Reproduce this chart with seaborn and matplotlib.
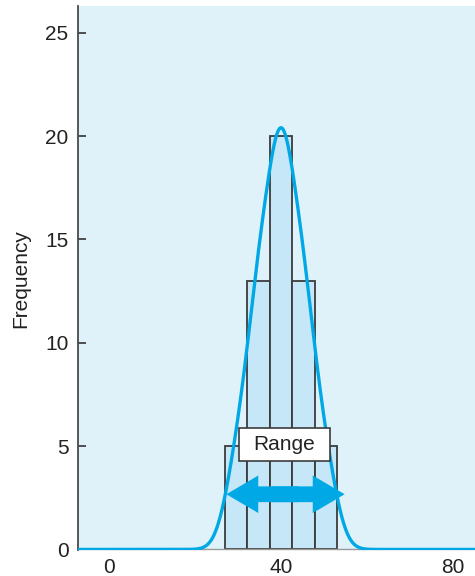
import matplotlib
matplotlib.use("Agg")
import matplotlib.pyplot as plt
from matplotlib.patches import Rectangle, FancyArrowPatch
import seaborn as sns
import pandas as pd

# --- data ---
bin_centers = [30, 35, 40, 45, 50]
counts = [5, 13, 20, 13, 5]
bin_width = 5.2
curve_peak = 20.4          # height of the smooth curve at its top
x_ticks = [0, 40, 80]
y_ticks = [0, 5, 10, 15, 20, 25]
box_label = "Range"

# --- colours ---
BG = "#dff2fa"
BAR = "#c6e7f7"
EDGE = "#3c3c3c"
BLUE = "#00a9e6"

sns.set_theme(style="white")
plt.rcParams["font.family"] = ["Liberation Sans", "DejaVu Sans"]

df = pd.DataFrame({"value": bin_centers, "count": counts})

fig = plt.figure(figsize=(4.75, 5.76), dpi=100)
ax = fig.add_axes([0.1648, 0.0443, 0.8352, 0.9453])
ax.set_facecolor(BG)

# histogram bars
sns.histplot(data=df, x="value", weights="count", binwidth=bin_width,
             binrange=(40 - 2.5 * bin_width, 40 + 2.5 * bin_width),
             color=BAR, edgecolor=EDGE, linewidth=1.3, alpha=1, ax=ax)

ax.set_xlim(-7.14, 85.12)
ax.set_ylim(-0.05, 26.29)

# smooth curve on a twin axis, scaled so the top sits at curve_peak
ax2 = ax.twinx()
sns.kdeplot(data=df, x="value", weights="count", bw_adjust=0.63, cut=20,
            clip=(-7.14, 85.12), gridsize=600, color=BLUE, linewidth=2.4, ax=ax2)
kde_max = ax2.lines[0].get_ydata().max()
scale = curve_peak / kde_max
lo, hi = ax.get_ylim()
ax2.set_ylim(lo / scale, hi / scale)
ax2.set_axis_off()

# range arrow: two filled "simple" arrows, overlapping in the middle
for start, end in [((44.0, 2.67), (27.3, 2.67)), ((38.0, 2.67), (54.8, 2.67))]:
    arrow = FancyArrowPatch(start, end, transform=ax.transData,
                            arrowstyle="simple,head_length=0.85,head_width=1.0,tail_width=0.42",
                            mutation_scale=27, color=BLUE, lw=0,
                            shrinkA=0, shrinkB=0, zorder=4)
    ax2.add_patch(arrow)

# label box
ax2.add_patch(Rectangle((30.2, 4.28), 21.2, 1.6, transform=ax.transData,
                        facecolor="white", edgecolor=EDGE, linewidth=1.2,
                        zorder=5, clip_on=False))
ax2.text(40.8, 5.08, box_label, transform=ax.transData, ha="center",
         va="center", fontsize=15, color="#222222", zorder=6)

# axes styling
for side in ["top", "right"]:
    ax.spines[side].set_visible(False)
ax.spines["left"].set_color("#4a4a4a")
ax.spines["left"].set_linewidth(1.3)
ax.spines["bottom"].set_position(("data", 0))
ax.spines["bottom"].set_color("#9a9a9a")
ax.spines["bottom"].set_linewidth(1.0)

ax.set_xticks(x_ticks)
ax.set_yticks(y_ticks)
ax.tick_params(axis="x", length=0, pad=6, labelsize=15, labelcolor="#222222")
ax.tick_params(axis="y", direction="in", length=6, width=1.2, color="#333333",
               pad=7, labelsize=15, labelcolor="#222222", left=True)
ax.set_xlabel("")
ax.set_ylabel("Frequency", fontsize=15, color="#222222", labelpad=11)

fig.savefig("out.png", dpi=100)
